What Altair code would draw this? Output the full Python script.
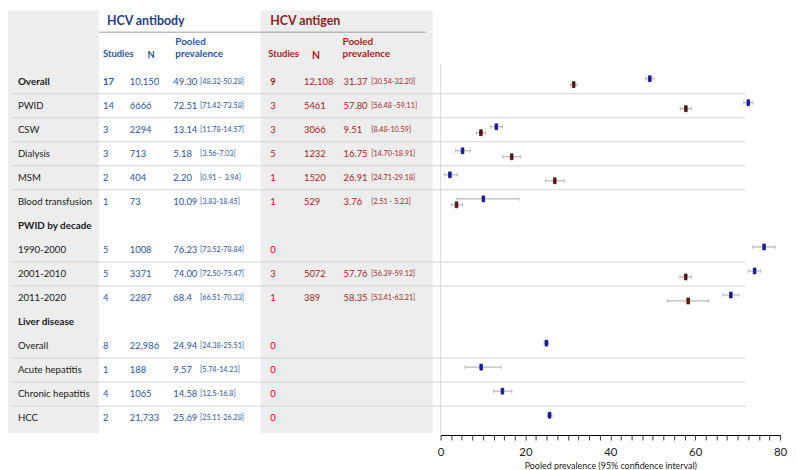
import altair as alt
import pandas as pd

# ---------------- data ----------------
labels = ["Overall", "PWID", "CSW", "Dialysis", "MSM", "Blood transfusion",
          "PWID by decade", "1990-2000", "2001-2010", "2011-2020",
          "Liver disease", "Overall", "Acute hepatitis", "Chronic hepatitis", "HCC"]
bold_rows = [True, False, False, False, False, False,
             True, False, False, False,
             True, False, False, False, False]
separator_below = [True, True, True, True, True, False,
                   False, True, True, False,
                   False, True, True, True, False]

ab_studies = ["17", "14", "3", "3", "2", "1", "", "5", "5", "4", "", "8", "1", "4", "2"]
ab_n = ["10,150", "6666", "2294", "713", "404", "73", "", "1008", "3371", "2287",
        "", "22,986", "188", "1065", "21,733"]
ab_prev_txt = ["49.30", "72.51", "13.14", "5.18", "2.20", "10.09", "", "76.23", "74.00",
               "68.4", "", "24.94", "9.57", "14.58", "25.69"]
ab_ci_txt = ["[48.32-50.28]", "[71.42-73.58]", "[11.78-14.57]", "[3.56-7.03]",
             "[0.91 \u2013 3.94]", "[3.83-18.45]", "", "[73.52-78.84]", "[72.50-75.47]",
             "[66.51-70.33]", "", "[24.38-25.51]", "[5.74-14.23]", "[12.5-16.8]",
             "[25.11-26.28]"]
ab_prev = [49.30, 72.51, 13.14, 5.18, 2.20, 10.09, None, 76.23, 74.00, 68.4,
           None, 24.94, 9.57, 14.58, 25.69]
ab_lo = [48.32, 71.42, 11.78, 3.56, 0.91, 3.83, None, 73.52, 72.50, 66.51,
         None, 24.38, 5.74, 12.5, 25.11]
ab_hi = [50.28, 73.58, 14.57, 7.03, 3.94, 18.45, None, 78.84, 75.47, 70.33,
         None, 25.51, 14.23, 16.8, 26.28]

ag_studies = ["9", "3", "3", "5", "1", "1", "", "0", "3", "1", "", "0", "0", "0", "0"]
ag_n = ["12,108", "5461", "3066", "1232", "1520", "529", "", "", "5072", "389",
        "", "", "", "", ""]
ag_prev_txt = ["31.37", "57.80", "9.51", "16.75", "26.91", "3.76", "", "", "57.76",
               "58.35", "", "", "", "", ""]
ag_ci_txt = ["[30.54-32.20]", "[56.48 -59.11]", "[8.48-10.59]", "[14.70-18.91]",
             "[24.71-29.18]", "[2.51 - 5.23]", "", "", "[56.39-59.12]",
             "[53.41-63.21]", "", "", "", "", ""]
ag_prev = [31.37, 57.80, 9.51, 16.75, 26.91, 3.76, None, None, 57.76, 58.35,
           None, None, None, None, None]
ag_lo = [30.54, 56.48, 8.48, 14.70, 24.71, 2.51, None, None, 56.39, 53.41,
         None, None, None, None, None]
ag_hi = [32.20, 59.11, 10.59, 18.91, 29.18, 5.23, None, None, 59.12, 63.21,
         None, None, None, None, None]

tick_values = [0, 2.5, 5, 7.5, 10, 12.5, 15, 17.5, 20, 22.5, 25, 27.5, 30, 32.5,
               35, 37.5, 40, 42.5, 45, 47.5, 50, 52.5, 55, 57.5, 60, 62.5, 65,
               67.5, 70, 72.5, 75, 77.5, 80]

# ---------------- tables ----------------
keys = [f"r{i:02d}" for i in range(len(labels))]
table = pd.DataFrame({
    "key": keys, "label": labels, "bold": bold_rows, "sep": separator_below,
    "ab_studies": ab_studies, "ab_n": ab_n, "ab_prev_txt": ab_prev_txt, "ab_ci": ab_ci_txt,
    "ag_studies": ag_studies, "ag_n": ag_n, "ag_prev_txt": ag_prev_txt, "ag_ci": ag_ci_txt,
})
ab_df = pd.DataFrame({"key": keys, "prev": ab_prev, "lo": ab_lo, "hi": ab_hi}).dropna()
ag_df = pd.DataFrame({"key": keys, "prev": ag_prev, "lo": ag_lo, "hi": ag_hi}).dropna()
one = pd.DataFrame({"v": [0]})

FONT = "Lato"
LABEL_C = "#1a1a1a"
AB_C = "#2b55a3"
AB_HEAD = "#1f3d8a"
AG_C = "#a61e22"
AG_HEAD = "#8e1b1b"
BG = "#ededed"
SEP_C = "#d2d2d2"
CI_C = "#a8a8a8"

yscale = alt.Scale(domain=keys, range=[59.9, 424.1], paddingInner=0, paddingOuter=0)


def Y(**kw):
    return alt.Y("key:N", scale=yscale, axis=None, **kw)


xscale = alt.Scale(domain=[0, 80], range=[437, 780], nice=False, zero=False)
x_axis = alt.Axis(
    values=tick_values,
    labelExpr="datum.value % 20 === 0 ? '' + datum.value : ''",
    title="Pooled prevalence (95% confidence interval)",
    grid=False, domainColor="#000000", domainWidth=1, tickColor="#333333",
    tickSize=5, tickWidth=1, labelFontSize=11.5, labelColor="#222222",
    labelPadding=7, labelFont=FONT, titleFont=FONT, titleFontSize=9,
    titleFontWeight="normal", titleColor="#222222", titlePadding=3,
    labelFlush=False, labelOverlap=False,
)


def X(field):
    return alt.X(field, type="quantitative", scale=xscale, axis=x_axis)


def rect(x0, x1, y0, y1, color):
    return alt.Chart(one).mark_rect(color=color).encode(
        x=alt.value(x0), x2=alt.value(x1), y=alt.value(y0), y2=alt.value(y1))


bg_left = rect(0, 92, 0, 427, BG)
bg_ag = rect(255, 429, 0, 427, BG)

separators = alt.Chart(table).transform_filter("datum.sep").mark_rule(
    color=SEP_C, strokeWidth=1).encode(
    x=alt.value(4), x2=alt.value(745), y=Y(bandPosition=1))

head_line = alt.Chart(one).mark_rule(color="#9a9a9a", strokeWidth=1).encode(
    x=alt.value(92), x2=alt.value(422), y=alt.value(22))

zero_line = alt.Chart(one).mark_rule(color="#d8d8d8", strokeWidth=1).encode(
    x=alt.X(datum=0, scale=xscale, axis=x_axis), y=alt.value(55), y2=alt.value(429))


def head_text(txt, x, y, size, color, weight="bold"):
    return alt.Chart(one).mark_text(
        text=txt, align="left", baseline="middle", font=FONT, fontSize=size,
        fontWeight=weight, color=color).encode(x=alt.value(x), y=alt.value(y))


headers = [
    head_text("HCV antibody", 100, 11, 12.5, AB_HEAD),
    head_text("HCV antigen", 265, 11, 12.5, AG_HEAD),
    head_text("Studies", 96, 44, 9.5, AB_C),
    head_text("N", 141, 45, 9.5, AB_C),
    head_text("Pooled", 169, 32, 10, AB_C),
    head_text("prevalence", 169, 44, 10, AB_C),
    head_text("Studies", 263, 44, 9.5, AG_C),
    head_text("N", 307, 46, 10.5, "#c0161c"),
    head_text("Pooled", 338, 32, 10, AG_C),
    head_text("prevalence", 338, 44, 10, AG_C),
]


def col_text(field, x, size, color, weight="normal", filt=None):
    c = alt.Chart(table)
    if filt is not None:
        c = c.transform_filter(filt)
    enc = dict(x=alt.value(x), y=Y(), text=alt.Text(field, type="nominal"))
    if isinstance(color, str):
        mk = c.mark_text(align="left", baseline="middle", font=FONT, fontSize=size,
                         fontWeight=weight, color=color)
    else:
        mk = c.mark_text(align="left", baseline="middle", font=FONT, fontSize=size,
                         fontWeight=weight)
        enc["color"] = color
    return mk.encode(**enc)


ag_studies_color = alt.condition("datum.ag_studies === '0'", alt.value("#d10000"),
                                 alt.value(AG_C))

texts = [
    col_text("label", 10, 10, LABEL_C, "bold", "datum.bold"),
    col_text("label", 10, 9.7, LABEL_C, "normal", "!datum.bold"),
    col_text("ab_studies", 96, 9.5, AB_C, "bold", "datum.bold"),
    col_text("ab_studies", 96, 9.5, AB_C, "normal", "!datum.bold"),
    col_text("ab_n", 123, 9.5, AB_C),
    col_text("ab_prev_txt", 167, 9.5, AB_C),
    col_text("ab_ci", 194, 7.3, AB_C),
    col_text("ag_studies", 265, 9.5, AG_C, "bold", "datum.bold"),
    col_text("ag_studies", 265, 9.5, ag_studies_color, "normal", "!datum.bold"),
    col_text("ag_n", 299, 9.5, AG_C),
    col_text("ag_prev_txt", 339, 9.5, AG_C),
    col_text("ag_ci", 367, 7.3, AG_C),
]

BOX = "M-0.45,-1L0.45,-1L0.45,1L-0.45,1Z"


def forest(df, off, fill, stroke):
    base = alt.Chart(df)
    ci = base.mark_rule(color=CI_C, strokeWidth=1, yOffset=off).encode(
        x=X("lo"), x2="hi", y=Y())
    cap_lo = base.mark_tick(color=CI_C, size=4, thickness=1, yOffset=off,
                            orient="vertical").encode(x=X("lo"), y=Y())
    cap_hi = base.mark_tick(color=CI_C, size=4, thickness=1, yOffset=off,
                            orient="vertical").encode(x=X("hi"), y=Y())
    pt = base.mark_point(shape=BOX, size=36, filled=True, fill=fill, stroke=stroke,
                         strokeWidth=0.7, opacity=1, yOffset=off).encode(
        x=X("prev"), y=Y())
    return [ci, cap_lo, cap_hi, pt]


layers = ([bg_left, bg_ag, separators, head_line, zero_line] + headers + texts
          + forest(ab_df, -3, "#1414d2", "#15154a")
          + forest(ag_df, 3, "#6e0f1a", "#2a0a0a"))

chart = alt.layer(*layers).properties(
    width=780, height=429,
    autosize=alt.AutoSizeParams(type="none"),
    padding={"left": 0, "top": 0, "right": 8, "bottom": 40},
).configure_view(stroke=None)

chart.save("out.html", embed_options={"renderer": "svg", "actions": False})
